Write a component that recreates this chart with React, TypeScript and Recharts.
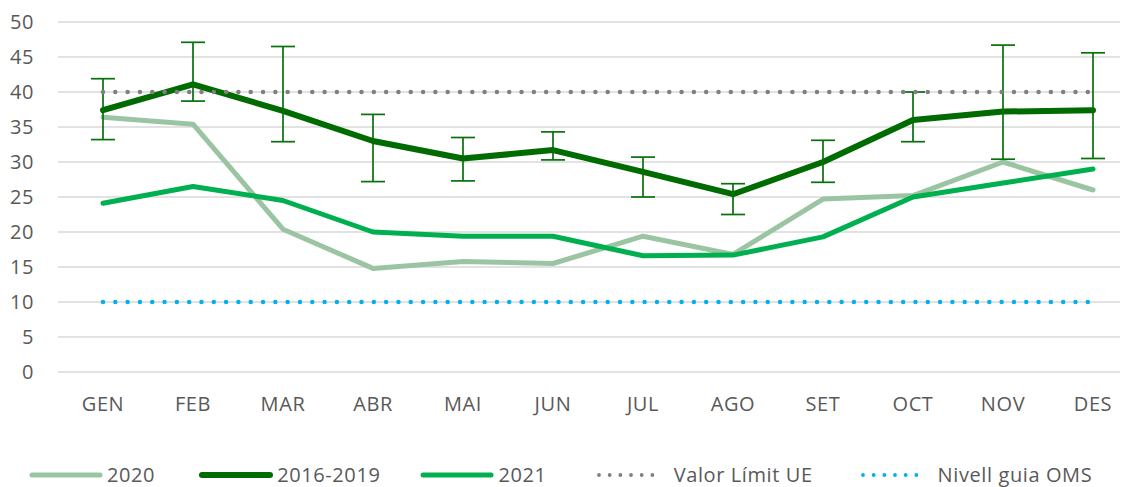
import React from 'react';
import { LineChart, Line, XAxis, YAxis, CartesianGrid, ErrorBar, Legend } from 'recharts';

const months = ['GEN', 'FEB', 'MAR', 'ABR', 'MAI', 'JUN', 'JUL', 'AGO', 'SET', 'OCT', 'NOV', 'DES'];
const s2020 = [36.4, 35.4, 20.4, 14.8, 15.8, 15.5, 19.4, 16.8, 24.7, 25.2, 30.0, 26.0];
const s1619 = [37.4, 41.1, 37.3, 33.0, 30.5, 31.7, 28.6, 25.4, 30.0, 36.0, 37.2, 37.4];
const errHigh = [41.9, 47.1, 46.5, 36.8, 33.5, 34.3, 30.7, 26.9, 33.1, 40.0, 46.7, 45.6];
const errLow = [33.2, 38.7, 32.9, 27.2, 27.3, 30.3, 25.0, 22.5, 27.1, 32.9, 30.4, 30.5];
const s2021 = [24.1, 26.5, 24.5, 20.0, 19.4, 19.4, 16.6, 16.7, 19.3, 25.0, 27.0, 29.0];
const limitUE = [40, 40, 40, 40, 40, 40, 40, 40, 40, 40, 40, 40];
const omsGuide = [10, 10, 10, 10, 10, 10, 10, 10, 10, 10, 10, 10];
const yTicks = [0, 5, 10, 15, 20, 25, 30, 35, 40, 45, 50];

const data = months.map((m, i) => ({
  month: m,
  s2020: s2020[i],
  s1619: s1619[i],
  err: [s1619[i] - errLow[i], errHigh[i] - s1619[i]],
  s2021: s2021[i],
  ue: limitUE[i],
  oms: omsGuide[i],
}));

const FONT = '"Open Sans", sans-serif';
const TEXT = '#595959';
const SPACING = 0.6;

const legendItems = [
  { name: '2020', color: '#9BC5A2', dotted: false, w: 5, gap: 44 },
  { name: '2016-2019', color: '#006B00', dotted: false, w: 6, gap: 40 },
  { name: '2021', color: '#00B050', dotted: false, w: 5, gap: 49 },
  { name: 'Valor Límit UE', color: '#808080', dotted: true, w: 3.8, gap: 47 },
  { name: 'Nivell guia OMS', color: '#00B0F0', dotted: true, w: 3.8, gap: 0 },
];

const CustomLegend = () => (
  <div style={{ display: 'flex', alignItems: 'center', height: 30, whiteSpace: 'nowrap',
    fontFamily: FONT, fontSize: 20, letterSpacing: SPACING, color: TEXT, lineHeight: '30px' }}>
    {legendItems.map((it) => (
      <div key={it.name} style={{ display: 'flex', alignItems: 'center', marginRight: it.gap }}>
        <svg width={74} height={10} style={{ marginRight: 4 }}>
          {it.dotted ? (
            <line x1={3} y1={5} x2={67} y2={5} stroke={it.color} strokeWidth={it.w}
              strokeLinecap="round" strokeDasharray="0.01 10.66" />
          ) : (
            <line x1={3} y1={5} x2={71} y2={5} stroke={it.color} strokeWidth={it.w} strokeLinecap="round" />
          )}
        </svg>
        <span>{it.name}</span>
      </div>
    ))}
  </div>
);

export default function App() {
  return (
    <div style={{ width: 1120, height: 479, overflow: 'hidden' }}>
      <LineChart
        width={1130}
        height={479}
        data={data}
        margin={{ top: 14, right: 0, bottom: 55, left: 0 }}
        style={{ fontFamily: FONT }}
      >
        <CartesianGrid vertical={false} stroke="#d9d9d9" strokeWidth={1.5} />
        <XAxis
          dataKey="month"
          axisLine={false}
          tickLine={false}
          tickSize={0}
          tickMargin={25}
          padding={{ left: 45, right: 45 }}
          tick={{ fill: TEXT, fontSize: 20, fontFamily: FONT, letterSpacing: SPACING }}
          interval={0}
        />
        <YAxis
          width={50}
          domain={[0, 50]}
          ticks={yTicks}
          axisLine={false}
          tickLine={false}
          tickSize={0}
          tickMargin={24}
          tick={{ fill: TEXT, fontSize: 20, fontFamily: FONT, letterSpacing: SPACING }}
          interval={0}
        />
        <Legend
          verticalAlign="bottom"
          content={<CustomLegend />}
          wrapperStyle={{ left: 21, top: 452, width: 1100, height: 30 }}
        />
        <Line dataKey="s2020" name="2020" stroke="#9BC5A2" strokeWidth={5} dot={false}
          strokeLinecap="round" strokeLinejoin="round" isAnimationActive={false} />
        <Line dataKey="s1619" name="2016-2019" stroke="#006B00" strokeWidth={6} dot={false}
          strokeLinecap="round" strokeLinejoin="round" isAnimationActive={false}>
          <ErrorBar dataKey="err" width={12} stroke="#08700A" strokeWidth={1.7} direction="y" />
        </Line>
        <Line dataKey="s2021" name="2021" stroke="#00B050" strokeWidth={5} dot={false}
          strokeLinecap="round" strokeLinejoin="round" isAnimationActive={false} />
        <Line dataKey="ue" name="Valor Límit UE" stroke="#808080" strokeWidth={4.5} dot={false}
          strokeLinecap="round" strokeDasharray="0.01 12.3" isAnimationActive={false} />
        <Line dataKey="oms" name="Nivell guia OMS" stroke="#00B0F0" strokeWidth={4.5} dot={false}
          strokeLinecap="round" strokeDasharray="0.01 12.3" isAnimationActive={false} />
      </LineChart>
    </div>
  );
}
